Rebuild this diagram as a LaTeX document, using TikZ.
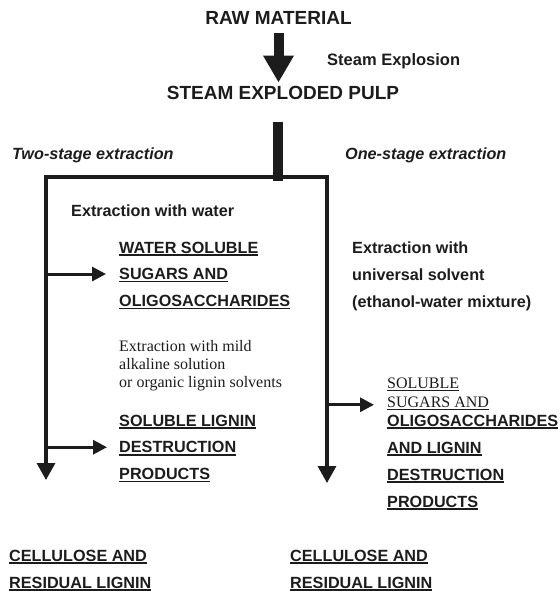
\documentclass[tikz,border=0pt]{standalone}
\usepackage{fontspec}
\setmainfont{Liberation Serif}
\setsansfont{Liberation Sans}
\usetikzlibrary{arrows.meta}
\definecolor{ink}{HTML}{1C1C1C}
\newcommand\ulined[1]{\setbox0\hbox{#1}\rlap{\smash{\rule[-2.7pt]{\wd0}{1.4pt}}}\box0}
\newcommand\ulthin[1]{\setbox0\hbox{#1}\rlap{\smash{\rule[-2.4pt]{\wd0}{0.8pt}}}\box0}
\tikzset{
  title/.style={font=\sffamily\bfseries\fontsize{19}{19}\selectfont,text=ink,
    inner sep=0pt,anchor=base},
  heading/.style={font=\sffamily\bfseries\fontsize{16.2}{16.2}\selectfont,text=ink,
    inner sep=0pt,anchor=base west},
  stage/.style={heading,font=\sffamily\bfseries\itshape\fontsize{16.2}{16.2}\selectfont},
  product/.style={heading},
  note/.style={font=\rmfamily\fontsize{16}{16}\selectfont,text=ink,
    inner sep=0pt,anchor=base west},
  big arrow/.style={draw=ink,line width=10pt,-{Triangle[width=29pt,length=27pt]}},
  bar/.style={draw=ink,line width=10pt},
  trunk/.style={draw=ink,line width=3.3pt,line join=miter,
    -{Triangle[width=18pt,length=17pt]}},
  branch/.style={draw=ink,line width=3pt,-{Triangle[width=14pt,length=14pt]}}
}
\begin{document}
\begin{tikzpicture}[x=1pt,y=-1pt]
  \useasboundingbox (0,0) rectangle (559,591);
  \node[title] (raw) at (278.5,25) {RAW MATERIAL};
  \node[title] (pulp) at (283,100) {STEAM EXPLODED PULP};
  \node[heading,font=\sffamily\bfseries\fontsize{16.5}{16.5}\selectfont] (steam) at (327,66) {Steam Explosion};
  \draw[big arrow] ([yshift=-8pt]raw.south) -- ([yshift=4pt]raw.south |- pulp.north);
  \node[stage] (two) at (12,159) {Two-stage extraction};
  \node[stage] (one) at (345,159) {One-stage extraction};
  \coordinate (bar) at (278,122);
  \coordinate (split) at (278,177);
  \coordinate (lend) at (46,480);
  \coordinate (rend) at (327,483);
  \draw[trunk] (split) -| (lend);
  \draw[trunk] (split) -| (rend);
  \draw[bar] (bar) -- ([yshift=-4pt]split);
  \node[heading] (water) at (71,216) {Extraction with water};
  \foreach \txt [count=\i from 0] in {WATER SOLUBLE,SUGARS AND,OLIGOSACCHARIDES}
    \node[product] (ws\i) at (119,253+26.6*\i) {\ulined{\txt}};
  \foreach \txt [count=\i from 0] in {Extraction with mild,alkaline solution,or organic lignin solvents}
    \node[note] (mild\i) at (119,351+18*\i) {\txt};
  \foreach \txt [count=\i from 0] in {SOLUBLE LIGNIN,DESTRUCTION,PRODUCTS}
    \node[product] (sl\i) at (119,426+26.8*\i) {\ulined{\txt}};
  \foreach \txt [count=\i from 0] in {Extraction with,universal solvent,{(ethanol-water mixture)}}
    \node[heading] (uni\i) at (352,253+27*\i) {\txt};
  \foreach \txt [count=\i from 0] in {SOLUBLE,SUGARS AND}
    \node[note] (ss\i) at (387,388+19*\i) {\ulthin{\txt}};
  \foreach \txt [count=\i from 0] in {OLIGOSACCHARIDES,AND LIGNIN,DESTRUCTION,PRODUCTS}
    \node[product] (ol\i) at (387,426+27*\i) {\ulined{\txt}};
  \foreach \txt [count=\i from 0] in {CELLULOSE AND,RESIDUAL LIGNIN}
    \node[product] (lc\i) at (9,561+27*\i) {\ulined{\txt}};
  \foreach \txt [count=\i from 0] in {CELLULOSE AND,RESIDUAL LIGNIN}
    \node[product] (rc\i) at (290,561+27*\i) {\ulined{\txt}};
  \draw[branch] (ws1.west -| lend) -- ([xshift=-13pt]ws1.west);
  \draw[branch] (sl1.west -| lend) -- ([xshift=-12pt]sl1.west);
  \draw[branch] ([yshift=-3pt]ss1.west -| rend) -- ([xshift=-13pt,yshift=-3pt]ss1.west);
\end{tikzpicture}
\end{document}
